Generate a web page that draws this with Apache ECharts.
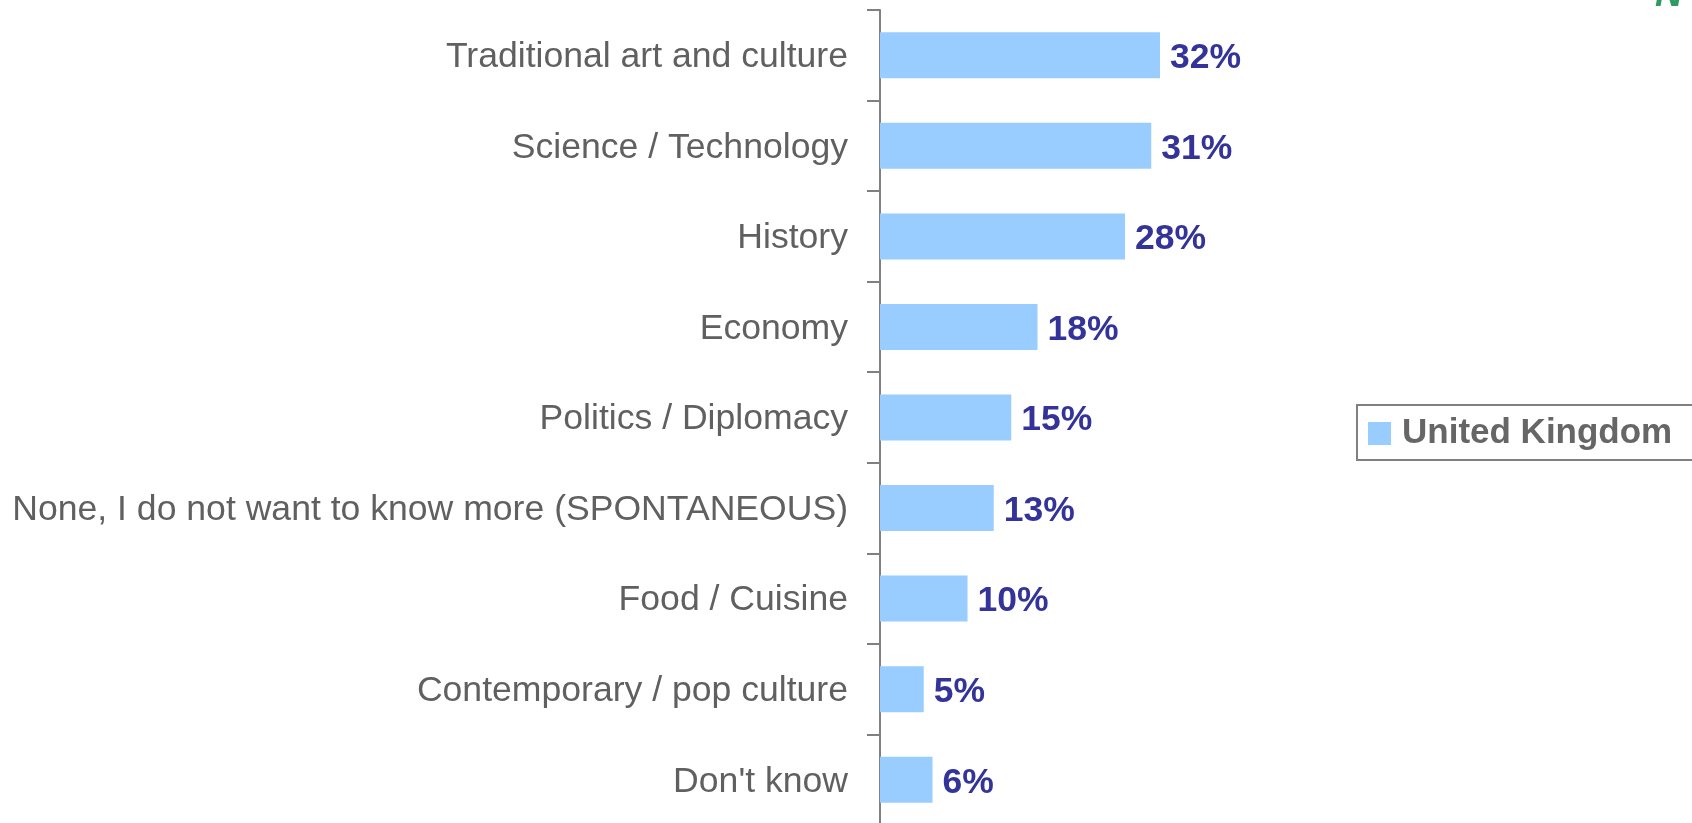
<!DOCTYPE html>
<html>
<head>
<meta charset="utf-8">
<script src="https://cdn.jsdelivr.net/npm/echarts@6/dist/echarts.min.js"></script>
<style>
  html, body { margin: 0; padding: 0; background: #fff; }
  #chart { width: 1692px; height: 823px; }
</style>
</head>
<body>
<div id="chart"></div>
<script>
var categories = [
  'Traditional art and culture',
  'Science / Technology',
  'History',
  'Economy',
  'Politics / Diplomacy',
  'None, I do not want to know more (SPONTANEOUS)',
  'Food / Cuisine',
  'Contemporary / pop culture',
  "Don't know"
];
var ukValues = [32, 31, 28, 18, 15, 13, 10, 5, 6];
var seriesName = 'United Kingdom';

var chart = echarts.init(document.getElementById('chart'));
chart.setOption({
  animation: false,
  textStyle: { fontFamily: 'Liberation Sans, Arial, sans-serif' },
  title: {
    text: 'N',
    left: 1655,
    top: -23,
    padding: 0,
    textStyle: {
      fontSize: 38,
      fontStyle: 'italic',
      fontWeight: 'bold',
      color: '#2e9b62',
      fontFamily: 'Liberation Sans, Arial, sans-serif'
    }
  },
  legend: {
    data: [seriesName],
    left: 1357,
    top: 405,
    orient: 'vertical',
    icon: 'rect',
    itemWidth: 23,
    itemHeight: 23,
    padding: [11, 40, 9, 11],
    borderColor: '#808080',
    borderWidth: 2,
    textStyle: {
      fontSize: 35,
      fontWeight: 'bold',
      color: '#666666',
      padding: [4, 0, 0, 6]
    }
  },
  grid: { left: 880, top: 10, width: 350, height: 815, outerBoundsMode: 'none', containLabel: false },
  xAxis: {
    type: 'value',
    min: 0,
    max: 40,
    show: false
  },
  yAxis: {
    type: 'category',
    inverse: true,
    data: categories,
    axisLine: { show: true, lineStyle: { color: '#808080', width: 2 } },
    axisTick: { show: true, length: 13, alignWithLabel: false, lineStyle: { color: '#808080', width: 2 } },
    axisLabel: {
      margin: 32,
      formatter: function (v) { return '{a|' + v + '}'; },
      rich: {
        a: { fontSize: 35.6, color: '#606060', padding: [4, 0, 0, 0] }
      }
    }
  },
  series: [{
    name: seriesName,
    type: 'bar',
    data: ukValues,
    barWidth: 46,
    itemStyle: { color: '#99ccff' },
    label: {
      show: true,
      position: 'right',
      distance: 10,
      offset: [0, 3],
      formatter: '{c}%',
      fontSize: 35.5,
      fontWeight: 'bold',
      color: '#333399'
    }
  }]
});
</script>
</body>
</html>
